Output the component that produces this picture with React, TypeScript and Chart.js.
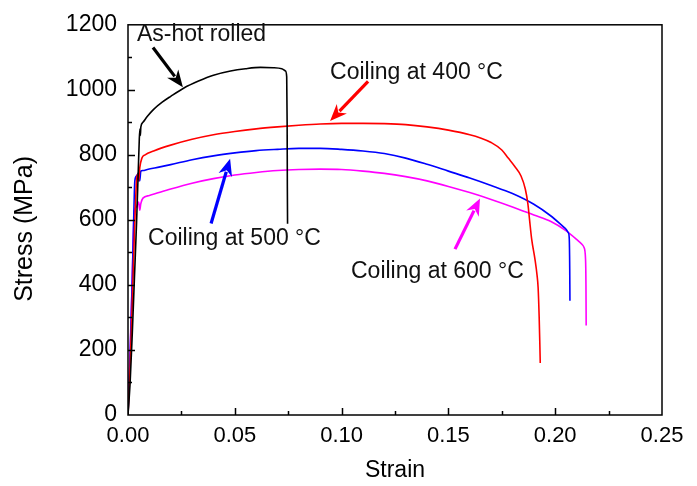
import React, { useEffect, useRef } from "react";
import { Chart, registerables } from "chart.js";

Chart.register(...registerables);

const FONT = "'Liberation Sans', Arial, Helvetica, sans-serif";

// ---- Data (strain, stress in MPa) ----
const hotStrain = [0, 0.001, 0.002, 0.003, 0.004, 0.0048, 0.0053, 0.0056, 0.0058, 0.006, 0.007, 0.009, 0.012, 0.016, 0.02, 0.026, 0.033, 0.04, 0.048, 0.055, 0.062, 0.068, 0.072, 0.0737, 0.0743, 0.0745, 0.0746, 0.0747];
const hotStress = [0, 100, 250, 420, 590, 750, 850, 880, 860, 885, 900, 918, 940, 962, 980, 1005, 1027, 1045, 1058, 1065, 1069, 1068, 1065, 1058, 1040, 900, 700, 588];

const c400Strain = [0, 0.001, 0.002, 0.003, 0.0035, 0.004, 0.0045, 0.005, 0.0055, 0.0065, 0.008, 0.012, 0.02, 0.03, 0.04, 0.05, 0.06, 0.07, 0.08, 0.09, 0.1, 0.11, 0.12, 0.13, 0.14, 0.15, 0.16, 0.165, 0.17, 0.175, 0.178, 0.181, 0.184, 0.186, 0.1872, 0.188, 0.189, 0.1905, 0.1915, 0.192, 0.1925, 0.1928, 0.193];
const c400Stress = [0, 150, 350, 560, 650, 720, 740, 720, 760, 790, 800, 812, 830, 848, 862, 872, 880, 886, 891, 895, 897, 897, 896, 893, 886, 876, 862, 852, 838, 815, 790, 765, 735, 695, 650, 600, 540, 480, 430, 392, 300, 220, 160];

const c500Strain = [0, 0.001, 0.002, 0.0028, 0.0032, 0.004, 0.005, 0.0055, 0.006, 0.007, 0.009, 0.015, 0.02, 0.03, 0.04, 0.05, 0.06, 0.07, 0.08, 0.09, 0.1, 0.11, 0.12, 0.13, 0.14, 0.15, 0.16, 0.17, 0.18, 0.19, 0.198, 0.204, 0.2062, 0.2066, 0.2068, 0.2069];
const c500Stress = [0, 180, 420, 640, 720, 735, 745, 720, 750, 752, 755, 763, 770, 785, 797, 806, 813, 817, 820, 820, 817, 812, 804, 790, 771, 750, 729, 706, 681, 648, 612, 578, 560, 540, 450, 351];

const c600Strain = [0, 0.001, 0.002, 0.0027, 0.003, 0.004, 0.005, 0.0055, 0.006, 0.007, 0.01, 0.02, 0.03, 0.04, 0.05, 0.06, 0.07, 0.08, 0.09, 0.1, 0.11, 0.12, 0.13, 0.14, 0.15, 0.16, 0.17, 0.18, 0.19, 0.198, 0.205, 0.21, 0.2125, 0.2135, 0.2142, 0.2144, 0.2145];
const c600Stress = [30, 200, 420, 600, 630, 640, 655, 630, 650, 667, 675, 695, 713, 727, 738, 746, 752, 755, 756, 755, 750, 743, 733, 720, 703, 684, 663, 640, 615, 595, 567, 540, 525, 515, 480, 400, 275];

const seriesNames = ["As-hot rolled", "Coiling at 400 °C", "Coiling at 500 °C", "Coiling at 600 °C"];
const seriesColors = ["#000000", "#ff0000", "#0000ff", "#ff00ff"];
const seriesStrain = [hotStrain, c400Strain, c500Strain, c600Strain];
const seriesStress = [hotStress, c400Stress, c500Stress, c600Stress];

// ---- Axes ----
const xMin = 0, xMax = 0.25, xStep = 0.05, xMinorStep = 0.025;
const yMin = 0, yMax = 1200, yStep = 200, yMinorStep = 100;
const xTitle = "Strain";
const yTitle = "Stress (MPa)";

// ---- Annotations (data coordinates) ----
const annTexts = ["As-hot rolled", "Coiling at 400 °C", "Coiling at 500 °C", "Coiling at 600 °C"];
const annX = [0.0042, 0.0946, 0.0094, 0.1044];
const annY = [1171, 1053, 542, 440];
const arrowFromX = [0.0117, 0.1124, 0.0389, 0.1531];
const arrowFromY = [1130, 1026, 589, 510];
const arrowToX = [0.0257, 0.0946, 0.0478, 0.1648];
const arrowToY = [1008, 904, 788, 666];
const arrowColors = ["#000000", "#ff0000", "#0000ff", "#ff00ff"];

const decorPlugin = {
  id: "decor",
  afterDraw(chart: any) {
    const { ctx, chartArea, scales } = chart;
    const xs = scales.x, ys = scales.y;
    const { left, right, top, bottom } = chartArea;
    ctx.save();
    // frame
    ctx.strokeStyle = "#000";
    ctx.lineWidth = 1.5;
    ctx.strokeRect(left, top, right - left, bottom - top);
    // inward ticks
    ctx.beginPath();
    for (let v = yMin + yMinorStep; v < yMax - 1e-9; v += yMinorStep) {
      const py = Math.round(ys.getPixelForValue(v)) + 0.5;
      const major = Math.abs(v / yStep - Math.round(v / yStep)) < 1e-6;
      ctx.moveTo(left, py);
      ctx.lineTo(left + (major ? 7 : 4), py);
    }
    for (let v = xMin + xMinorStep; v < xMax - 1e-9; v += xMinorStep) {
      const px = Math.round(xs.getPixelForValue(v)) + 0.5;
      const major = Math.abs(v / xStep - Math.round(v / xStep)) < 1e-6;
      ctx.moveTo(px, bottom);
      ctx.lineTo(px, bottom - (major ? 7 : 4));
    }
    ctx.lineWidth = 1.5;
    ctx.stroke();

    // y title
    ctx.save();
    ctx.fillStyle = "#000";
    ctx.font = `25px ${FONT}`;
    ctx.textAlign = "center";
    ctx.textBaseline = "middle";
    ctx.translate(25, (top + bottom) / 2 + 9);
    ctx.rotate(-Math.PI / 2);
    ctx.fillText(yTitle, 0, 0);
    ctx.restore();

    // arrows
    for (let i = 0; i < arrowFromX.length; i++) {
      const x0 = xs.getPixelForValue(arrowFromX[i]);
      const y0 = ys.getPixelForValue(arrowFromY[i]);
      const x1 = xs.getPixelForValue(arrowToX[i]);
      const y1 = ys.getPixelForValue(arrowToY[i]);
      const ang = Math.atan2(y1 - y0, x1 - x0);
      const headLen = 17, headHalf = 7;
      const bx = x1 - Math.cos(ang) * headLen * 0.8;
      const by = y1 - Math.sin(ang) * headLen * 0.8;
      ctx.strokeStyle = arrowColors[i];
      ctx.fillStyle = arrowColors[i];
      ctx.lineWidth = 3.2;
      ctx.lineCap = "butt";
      ctx.beginPath();
      ctx.moveTo(x0, y0);
      ctx.lineTo(bx, by);
      ctx.stroke();
      const hx = x1 - Math.cos(ang) * headLen;
      const hy = y1 - Math.sin(ang) * headLen;
      const nx = -Math.sin(ang), ny = Math.cos(ang);
      ctx.beginPath();
      ctx.moveTo(x1, y1);
      ctx.lineTo(hx + nx * headHalf, hy + ny * headHalf);
      ctx.lineTo(x1 - Math.cos(ang) * headLen * 0.7, y1 - Math.sin(ang) * headLen * 0.7);
      ctx.lineTo(hx - nx * headHalf, hy - ny * headHalf);
      ctx.closePath();
      ctx.fill();
    }

    // annotation texts
    ctx.fillStyle = "#111";
    ctx.font = `23px ${FONT}`;
    ctx.textAlign = "left";
    ctx.textBaseline = "middle";
    for (let i = 0; i < annTexts.length; i++) {
      ctx.fillText(annTexts[i], xs.getPixelForValue(annX[i]), ys.getPixelForValue(annY[i]));
    }
    ctx.restore();
  },
};

export default function App() {
  const canvasRef = useRef<HTMLCanvasElement | null>(null);

  useEffect(() => {
    document.body.style.margin = "0";
    const canvas = canvasRef.current;
    if (!canvas) return;
    const datasets = seriesNames.map((name, i) => ({
      label: name,
      data: seriesStrain[i].map((x, j) => ({ x, y: seriesStress[i][j] })),
      borderColor: seriesColors[i],
      backgroundColor: seriesColors[i],
      borderWidth: 1.6,
      pointRadius: 0,
      fill: false,
      cubicInterpolationMode: "monotone" as const,
    }));
    const chart = new Chart(canvas, {
      type: "line",
      data: { datasets },
      options: {
        animation: false,
        responsive: false,
        devicePixelRatio: 1,
        layout: { padding: { top: 22, right: 35, left: 0, bottom: 0 } },
        plugins: { legend: { display: false }, tooltip: { enabled: false } },
        scales: {
          x: {
            type: "linear",
            min: xMin,
            max: xMax,
            afterFit: (s: any) => { s.height = 71; },
            grid: { display: false, drawTicks: false },
            border: { display: false },
            ticks: {
              stepSize: xStep,
              autoSkip: false,
              maxRotation: 0,
              padding: 8,
              color: "#000",
              font: { family: FONT, size: 22 },
              callback: (v: any) => Number(v).toFixed(2),
            },
            title: {
              display: true,
              text: xTitle,
              color: "#000",
              font: { family: FONT, size: 23 },
              padding: { top: 0, bottom: 2 },
            },
          },
          y: {
            type: "linear",
            min: yMin,
            max: yMax,
            afterFit: (s: any) => { s.width = 128; },
            grid: { display: false, drawTicks: false },
            border: { display: false },
            ticks: {
              stepSize: yStep,
              padding: 11,
              color: "#000",
              font: { family: FONT, size: 23 },
              callback: (v: any) => String(Math.round(Number(v))),
            },
          },
        },
      },
      plugins: [decorPlugin],
    });
    return () => chart.destroy();
  }, []);

  return (
    <div style={{ width: 697, height: 486, background: "#fff" }}>
      <canvas ref={canvasRef} width={697} height={486} style={{ display: "block" }} />
    </div>
  );
}
